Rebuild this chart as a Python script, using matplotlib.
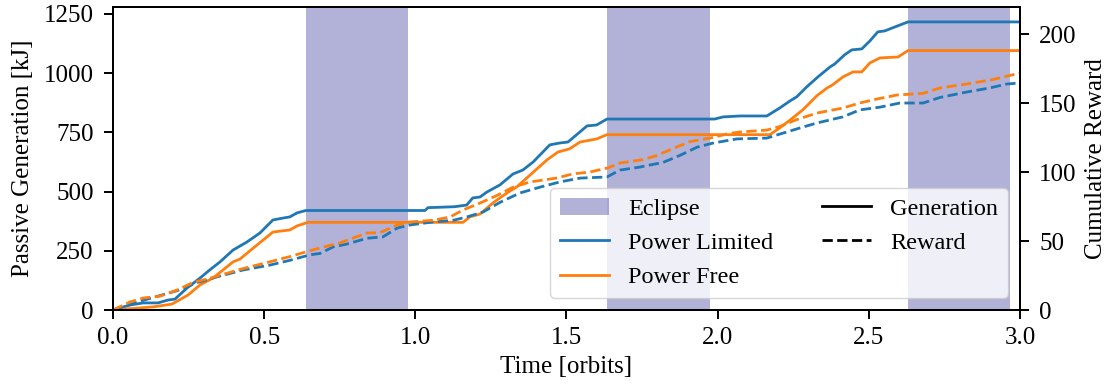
import matplotlib
matplotlib.use("Agg")
import matplotlib.pyplot as plt
from matplotlib.patches import Patch
from matplotlib.lines import Line2D

# ---- data ----
eclipse_start = [0.638, 1.634, 2.630]
eclipse_end = [0.976, 1.975, 2.967]

# passive generation [kJ], power limited
t_gen_lim = [0, 0.056, 0.1, 0.149, 0.182, 0.205, 0.245, 0.288, 0.32, 0.354, 0.397,
             0.443, 0.486, 0.529, 0.562, 0.585, 0.609, 0.638, 1.032, 1.042, 1.13,
             1.17, 1.19, 1.214, 1.237, 1.28, 1.323, 1.356, 1.39, 1.445, 1.478,
             1.505, 1.545, 1.568, 1.6, 1.634, 1.99, 2.018, 2.074, 2.163, 2.206,
             2.24, 2.262, 2.295, 2.332, 2.372, 2.388, 2.42, 2.444, 2.477, 2.504,
             2.53, 2.553, 2.587, 2.63, 3.0]
gen_lim = [0, 21, 30, 30, 42, 46, 93, 135, 169, 203, 253, 287, 325, 380, 388, 393,
           410, 420, 420, 432, 436, 443, 473, 477, 498, 528, 574, 591, 625, 697,
           705, 709, 752, 777, 781, 806, 806, 815, 819, 819, 853, 883, 900, 942,
           984, 1026, 1039, 1077, 1098, 1102, 1136, 1174, 1178, 1195, 1216, 1216]

# passive generation [kJ], power free
t_gen_free = [0, 0.132, 0.195, 0.248, 0.288, 0.331, 0.397, 0.42, 0.476, 0.529,
              0.585, 0.609, 0.645, 1.158, 1.18, 1.214, 1.257, 1.303, 1.336, 1.38,
              1.435, 1.472, 1.51, 1.545, 1.6, 1.634, 2.173, 2.206, 2.24, 2.282,
              2.328, 2.362, 2.38, 2.415, 2.448, 2.477, 2.504, 2.537, 2.597, 2.63, 3.0]
gen_free = [0, 13, 25, 63, 106, 135, 203, 215, 274, 329, 338, 355, 370, 370, 393,
            405, 452, 494, 520, 570, 633, 667, 680, 709, 722, 740, 740, 769, 802,
            845, 904, 937, 950, 984, 1005, 1005, 1043, 1064, 1068, 1095, 1095]

# cumulative reward, power limited
t_rew_lim = [0, 0.1, 0.212, 0.28, 0.344, 0.43, 0.52, 0.585, 0.652, 0.685, 0.728,
             0.774, 0.84, 0.893, 0.94, 0.982, 1.058, 1.125, 1.17, 1.224, 1.28,
             1.346, 1.412, 1.478, 1.545, 1.634, 1.677, 1.743, 1.82, 1.875, 1.932,
             1.985, 2.064, 2.163, 2.206, 2.272, 2.328, 2.415, 2.47, 2.537, 2.603,
             2.68, 2.735, 2.825, 2.9, 2.957, 3.0]
rew_lim = [0, 7, 14, 20, 24, 29, 32.6, 36, 40, 41, 45.7, 47.8, 52, 53, 59.4, 61.6,
           63.8, 65, 67.4, 71, 78, 84.8, 89, 92.8, 95.6, 96.4, 101.4, 103.6, 107,
           112, 118, 121, 124, 124.6, 127.5, 131.9, 135.5, 140, 145, 147, 150, 150,
           154, 158, 160.9, 163.8, 164.5]

# cumulative reward, power free
t_rew_free = [0, 0.056, 0.1, 0.155, 0.212, 0.265, 0.32, 0.43, 0.52, 0.585, 0.652,
              0.685, 0.75, 0.84, 0.883, 0.94, 0.982, 1.058, 1.115, 1.158, 1.214,
              1.27, 1.323, 1.38, 1.47, 1.52, 1.578, 1.637, 1.677, 1.753, 1.8, 1.852,
              1.908, 1.975, 2.04, 2.074, 2.163, 2.206, 2.262, 2.328, 2.415, 2.47,
              2.527, 2.593, 2.68, 2.735, 2.825, 2.91, 2.967, 3.0]
rew_free = [0, 5.8, 8.7, 10, 14.5, 20, 23, 30, 35, 38.7, 43, 45, 48.6, 55.8, 56,
            61.6, 63.8, 65, 67.4, 72.5, 77.5, 83, 89, 92.8, 95.7, 98.6, 100, 103,
            106.5, 109, 112, 117, 122, 124.6, 128, 129, 130.4, 133, 138, 142.7,
            146.4, 150, 152.9, 155.8, 157, 160.9, 163.8, 167, 170, 171.7]

x_ticks = [0.0, 0.5, 1.0, 1.5, 2.0, 2.5, 3.0]
left_ticks = [0, 250, 500, 750, 1000, 1250]
right_ticks = [0, 50, 100, 150, 200]

# ---- plot ----
plt.rcParams["font.family"] = ["Liberation Serif", "DejaVu Serif"]
plt.rcParams["font.size"] = 18
plt.rcParams["axes.linewidth"] = 1.4
for a in ("xtick", "ytick"):
    plt.rcParams[a + ".major.size"] = 6.5
    plt.rcParams[a + ".major.width"] = 1.4
plt.rcParams["xtick.major.pad"] = 6
plt.rcParams["ytick.major.pad"] = 7.5

c_lim = "#1f77b4"
c_free = "#ff7f0e"
lw = 2.0

fig = plt.figure(figsize=(11.11, 3.88), dpi=100)
ax = fig.add_axes([0.1017, 0.201, 0.8163, 0.781])
ax2 = ax.twinx()

for s, e in zip(eclipse_start, eclipse_end):
    ax.axvspan(s, e, color="navy", alpha=0.3, lw=0)

ax.plot(t_gen_lim, gen_lim, color=c_lim, lw=lw)
ax.plot(t_gen_free, gen_free, color=c_free, lw=lw)
ax2.plot(t_rew_lim, rew_lim, color=c_lim, lw=lw, ls="--")
ax2.plot(t_rew_free, rew_free, color=c_free, lw=lw, ls="--")

ax.set_xlim(0, 3)
ax.set_ylim(0, 1279)
ax2.set_ylim(0, 219.6)
ax.set_xticks(x_ticks)
ax.set_yticks(left_ticks)
ax2.set_yticks(right_ticks)

ax.set_xlabel("Time [orbits]", labelpad=5)
ax.set_ylabel("Passive Generation [kJ]", labelpad=7)
ax2.set_ylabel("Cumulative Reward", labelpad=6)

handles = [
    Patch(facecolor="navy", alpha=0.3, label="Eclipse"),
    Line2D([], [], color=c_lim, lw=lw, label="Power Limited"),
    Line2D([], [], color=c_free, lw=lw, label="Power Free"),
    Line2D([], [], color="black", lw=lw, label="Generation"),
    Line2D([], [], color="black", lw=lw, ls="--", label="Reward"),
]
ax2.legend(handles=handles, loc="lower right", ncol=2, columnspacing=2.0,
           fontsize=17.5)

fig.savefig("out.png", dpi=100)
